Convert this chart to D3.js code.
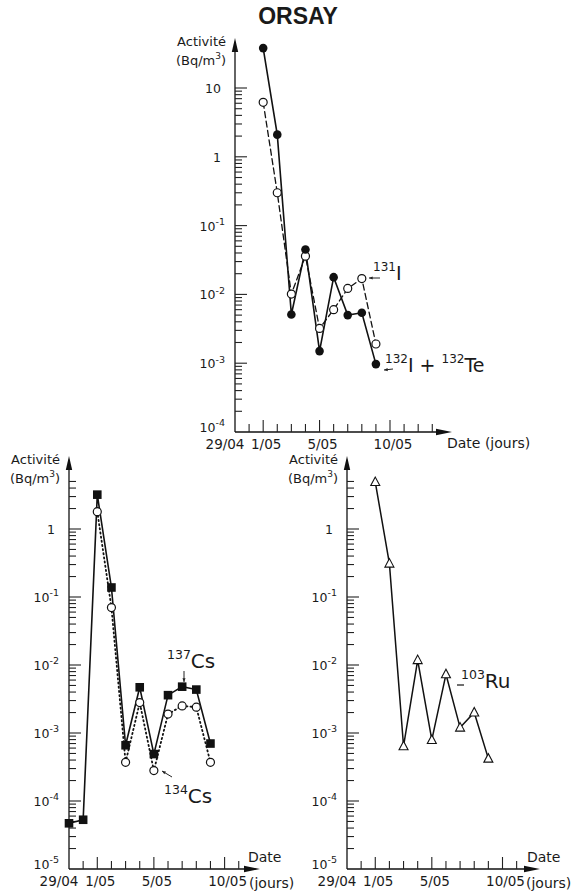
<!DOCTYPE html>
<html>
<head>
<meta charset="utf-8">
<script src="https://cdn.jsdelivr.net/npm/d3@7"></script>
<style>
  body { margin: 0; background: #fff; }
  text { font-family: "DejaVu Sans", "Open Sans", sans-serif; fill: #1a1a1a; }
</style>
</head>
<body>
<div id="chart"></div>
<script>
// days counted from 29/04
let tickDays = [0, 2, 6, 11]
let tickLabels = ['29/04', '1/05', '5/05', '10/05']

// ORSAY - iodine (top)
let iodineDays = [2, 3, 4, 5, 6, 7, 8, 9, 10]
let i132Te = [38, 2.1, 0.0051, 0.045, 0.0015, 0.0178, 0.005, 0.0054, 0.00097]
let i131 = [6.2, 0.30, 0.0101, 0.036, 0.0032, 0.006, 0.0122, 0.017, 0.0019]

// caesium (bottom left)
let cs137Days = [0, 1, 2, 3, 4, 5, 6, 7, 8, 9, 10]
let cs137 = [4.7e-5, 5.3e-5, 3.2, 0.138, 6.6e-4, 4.7e-3, 4.9e-4, 3.6e-3, 4.8e-3, 4.35e-3, 7.0e-4]
let cs134Days = [2, 3, 4, 5, 6, 7, 8, 9, 10]
let cs134 = [1.8, 0.07, 3.7e-4, 2.8e-3, 2.8e-4, 1.9e-3, 2.5e-3, 2.4e-3, 3.7e-4]

// ruthenium (bottom right)
let ruDays = [2, 3, 4, 5, 6, 7, 8, 9, 10]
let ru103 = [4.9, 0.31, 6.4e-4, 0.0118, 7.9e-4, 7.3e-3, 1.2e-3, 2.0e-3, 4.2e-4]

let width = 578, height = 892

let svg = d3.select('#chart').append('svg')
  .attr('width', width)
  .attr('height', height)

svg.append('text')
  .attr('x', 298).attr('y', 24)
  .attr('text-anchor', 'middle')
  .style('font-family', '"Liberation Sans", Arial, sans-serif')
  .style('font-weight', 'bold')
  .style('font-size', '23px')
  .text('ORSAY')

// text with superscript parts: parts = [[str, isSup], ...]
function supText(g, x, y, parts, size, supSize, anchor) {
  let t = g.append('text').attr('x', x).attr('y', y)
    .attr('text-anchor', anchor || 'start')
    .style('font-size', size + 'px')
  let up = false
  parts.forEach(p => {
    let s = t.append('tspan').text(p[0])
    if (p[1] && !up) { s.attr('dy', -size * 0.45).style('font-size', supSize + 'px'); up = true }
    else if (p[1]) { s.style('font-size', supSize + 'px') }
    else if (up) { s.attr('dy', size * 0.45); up = false }
  })
  return t
}

function panel(o) {
  let x = d3.scaleLinear().domain([0, 11]).range([o.x0, o.x11])
  let y = d3.scaleLog().domain([o.yMin, o.yMax]).range([o.yBottom, o.yTop])
  let g = svg.append('g')
  let ax = x(0), ay = y(o.yMin)

  // axis lines + arrows
  g.append('line').attr('x1', ax).attr('x2', ax).attr('y1', ay).attr('y2', o.arrowY + 6)
    .attr('stroke', '#111').attr('stroke-width', 1.3)
  g.append('line').attr('x1', ax).attr('x2', o.arrowX - 6).attr('y1', ay).attr('y2', ay)
    .attr('stroke', '#111').attr('stroke-width', 1.3)
  g.append('path').attr('d', `M${ax},${o.arrowY} L${ax - 3.2},${o.arrowY + 14} L${ax + 3.2},${o.arrowY + 14} Z`).attr('fill', '#111')
  g.append('path').attr('d', `M${o.arrowX},${ay} L${o.arrowX - 16},${ay - 3.2} L${o.arrowX - 16},${ay + 3.2} Z`).attr('fill', '#111')

  // y ticks (log)
  let lo = Math.round(Math.log10(o.yMin)), hi = Math.round(Math.log10(o.yMax))
  let yt = []
  for (let e = lo; e < hi; e++) {
    for (let m = 1; m <= 9; m++) yt.push({ v: m * Math.pow(10, e), major: m === 1, e: e })
  }
  yt.push({ v: Math.pow(10, hi), major: true, e: hi })
  o.extra.forEach(m => yt.push({ v: m * Math.pow(10, hi), major: false }))
  yt.forEach(t => {
    if (t.v === o.yMin) return
    g.append('line')
      .attr('x1', ax).attr('x2', ax + (t.major ? 12 : 7))
      .attr('y1', y(t.v)).attr('y2', y(t.v))
      .attr('stroke', '#222').attr('stroke-width', 1.1)
  })
  yt.filter(t => t.major).forEach(t => {
    let ty = y(t.v) + 5 - (t.v === o.yMin ? 5 : 0)
    if (t.e === 0) g.append('text').attr('x', ax - 14).attr('y', ty).attr('text-anchor', 'end').style('font-size', '12.5px').text('1')
    else if (t.e === 1) g.append('text').attr('x', ax - 14).attr('y', ty).attr('text-anchor', 'end').style('font-size', '12.5px').text('10')
    else supText(g, ax - 10, ty, [['10', false], [String(t.e), true]], 12.5, 9.5, 'end')
  })

  // x ticks
  d3.range(1, o.nTicks + 1).forEach(d => {
    let major = tickDays.includes(d)
    g.append('line')
      .attr('x1', x(d)).attr('x2', x(d))
      .attr('y1', ay).attr('y2', ay - (major ? 12 : 8))
      .attr('stroke', '#222').attr('stroke-width', 1.1)
  })
  tickDays.forEach((d, i) => {
    g.append('text')
      .attr('x', x(d) + (i === 0 ? -10 : 3)).attr('y', ay + 17)
      .attr('text-anchor', 'middle')
      .style('font-size', '13.5px')
      .text(tickLabels[i])
  })

  // axis titles
  g.append('text').attr('x', ax - 9).attr('y', o.arrowY + 8).attr('text-anchor', 'end').style('font-size', '13px').text('Activité')
  supText(g, ax - 9, o.arrowY + 27, [['(Bq/m', false], ['3', true], [')', false]], 13, 9, 'end')

  return { x: x, y: y, g: g }
}

function drawLine(p, days, vals, dash, width) {
  let line = d3.line().x(d => p.x(d[0])).y(d => p.y(d[1]))
  p.g.append('path')
    .datum(days.map((d, i) => [d, vals[i]]))
    .attr('d', line)
    .attr('fill', 'none')
    .attr('stroke', '#111')
    .attr('stroke-width', width || 1.5)
    .attr('stroke-linecap', 'round')
    .attr('stroke-dasharray', dash || null)
}

function drawMarks(p, days, vals, kind) {
  days.forEach((d, i) => {
    let cx = p.x(d), cy = p.y(vals[i])
    if (kind === 'dot') p.g.append('circle').attr('cx', cx).attr('cy', cy).attr('r', 4.3).attr('fill', '#111')
    if (kind === 'ring') p.g.append('circle').attr('cx', cx).attr('cy', cy).attr('r', 4).attr('fill', '#fff').attr('stroke', '#111').attr('stroke-width', 1.2)
    if (kind === 'square') p.g.append('rect').attr('x', cx - 4.3).attr('y', cy - 4.3).attr('width', 8.6).attr('height', 8.6).attr('fill', '#111')
    if (kind === 'tri') p.g.append('path').attr('d', `M${cx},${cy - 5} L${cx - 4.5},${cy + 3.5} L${cx + 4.5},${cy + 3.5} Z`).attr('fill', '#fff').attr('stroke', '#111').attr('stroke-width', 1.1)
  })
}

function arrow(g, x1, y1, x2, y2) {
  g.append('line').attr('x1', x1).attr('y1', y1).attr('x2', x2).attr('y2', y2).attr('stroke', '#222').attr('stroke-width', 1)
  let a = Math.atan2(y2 - y1, x2 - x1)
  let h = 4
  g.append('path')
    .attr('d', `M${x2},${y2} L${x2 - h * Math.cos(a - 0.4)},${y2 - h * Math.sin(a - 0.4)} L${x2 - h * Math.cos(a + 0.4)},${y2 - h * Math.sin(a + 0.4)} Z`)
    .attr('fill', '#222')
}

// ---- top panel
let topPanel = panel({ x0: 235, x11: 390, yMin: 1e-4, yMax: 10, yBottom: 432, yTop: 88, arrowY: 38, arrowX: 452, nTicks: 14, extra: [] })
drawLine(topPanel, iodineDays, i131, '6,3.5', 1.3)
drawLine(topPanel, iodineDays, i132Te, null, 1.6)
drawMarks(topPanel, iodineDays, i131, 'ring')
drawMarks(topPanel, iodineDays, i132Te, 'dot')
topPanel.g.append('text').attr('x', 447).attr('y', 448).style('font-size', '14px').text('Date (jours)')
supText(topPanel.g, 373, 280, [['131', true], ['I', false]], 19, 12)
arrow(topPanel.g, 380, 278, 369, 278)
supText(topPanel.g, 385, 372, [['132', true], ['I', false], [' + ', false], ['132', true], ['Te', false]], 19, 12)
arrow(topPanel.g, 393, 369, 384, 370)

// ---- bottom left
let leftPanel = panel({ x0: 69, x11: 224.6, yMin: 1e-5, yMax: 1, yBottom: 869, yTop: 529, arrowY: 456, arrowX: 260, nTicks: 12, extra: [2, 3, 4, 5] })
drawLine(leftPanel, cs134Days, cs134, '1.2,3', 1.8)
drawLine(leftPanel, cs137Days, cs137, null, 1.6)
drawMarks(leftPanel, cs134Days, cs134, 'ring')
drawMarks(leftPanel, cs137Days, cs137, 'square')
leftPanel.g.append('text').attr('x', 248).attr('y', 862).style('font-size', '14px').text('Date')
leftPanel.g.append('text').attr('x', 249).attr('y', 888).style('font-size', '14px').text('(jours)')
supText(leftPanel.g, 167, 668, [['137', true], ['Cs', false]], 20, 12.5)
arrow(leftPanel.g, 184, 671, 184, 682)
supText(leftPanel.g, 164, 803, [['134', true], ['Cs', false]], 20, 12.5)
arrow(leftPanel.g, 172, 777, 162, 771)

// ---- bottom right
let rightPanel = panel({ x0: 347, x11: 502.5, yMin: 1e-5, yMax: 1, yBottom: 869, yTop: 529, arrowY: 456, arrowX: 540, nTicks: 12, extra: [2, 3, 4, 5] })
drawLine(rightPanel, ruDays, ru103, null, 1.5)
drawMarks(rightPanel, ruDays, ru103, 'tri')
rightPanel.g.append('text').attr('x', 527).attr('y', 862).style('font-size', '14px').text('Date')
rightPanel.g.append('text').attr('x', 526).attr('y', 888).style('font-size', '14px').text('(jours)')
supText(rightPanel.g, 461, 688, [['103', true], ['Ru', false]], 20, 12.5)
rightPanel.g.append('line').attr('x1', 457).attr('x2', 464).attr('y1', 685).attr('y2', 685).attr('stroke', '#222').attr('stroke-width', 1.3)
</script>
</body>
</html>
